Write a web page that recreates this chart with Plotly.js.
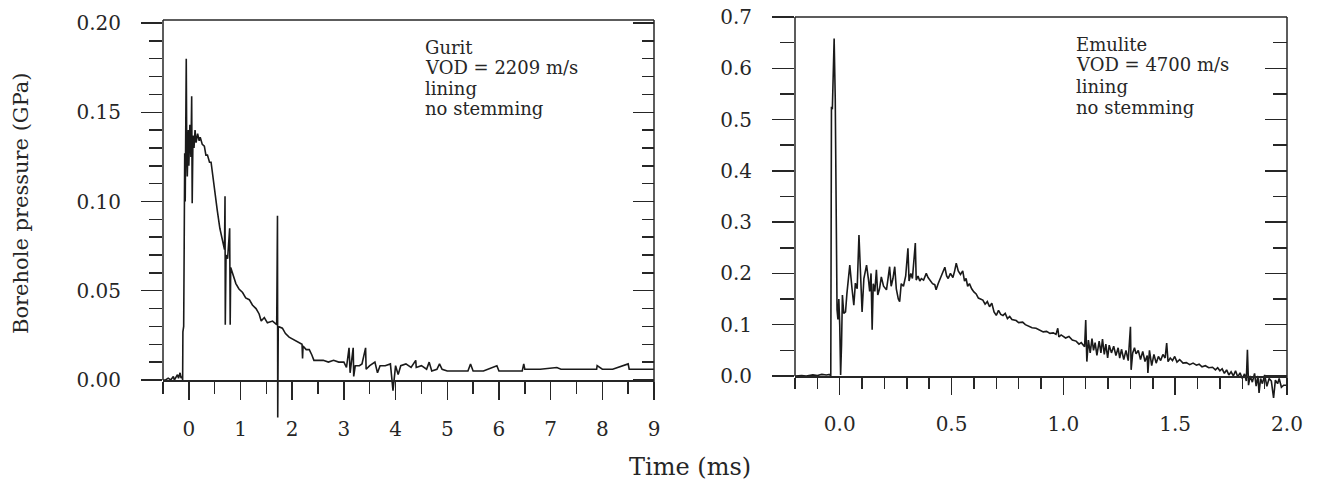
<!DOCTYPE html>
<html><head><meta charset="utf-8">
<script src="https://cdn.plot.ly/plotly-3.0.1.min.js"></script>
<style>html,body{margin:0;padding:0;background:#fff}</style>
</head><body>
<div id="chart" style="width:1320px;height:481px"></div>
<script>
// ---------- data ----------
const guritTime = [-0.50,-0.45,-0.40,-0.35,-0.30,-0.28,-0.22,-0.20,-0.17,-0.15,
 -0.13,-0.12,-0.115,-0.10,-0.09,-0.08,-0.07,-0.06,-0.05,-0.04,
 -0.03,-0.01,0.00,0.02,0.04,0.055,0.065,0.08,0.10,0.12,
 0.14,0.17,0.20,0.22,0.26,0.30,0.33,0.36,0.40,0.43,
 0.45,0.50,0.55,0.60,0.65,0.69,0.70,0.705,0.72,0.75,
 0.79,0.80,0.81,0.86,0.91,0.97,1.04,1.10,1.17,1.23,
 1.30,1.36,1.40,1.46,1.52,1.62,1.70,1.715,1.72,1.73,
 1.81,1.87,1.94,2.00,2.07,2.13,2.19,2.20,2.21,2.27,
 2.33,2.38,2.42,2.49,2.60,2.70,2.80,2.90,3.00,3.05,
 3.10,3.12,3.15,3.18,3.19,3.22,3.30,3.35,3.42,3.43,
 3.50,3.60,3.65,3.70,3.80,3.90,3.95,4.00,4.05,4.10,
 4.20,4.30,4.39,4.40,4.50,4.60,4.65,4.70,4.80,4.85,
 4.90,5.00,5.20,5.40,5.45,5.50,5.70,5.96,6.00,6.20,
 6.45,6.48,6.50,6.80,7.12,7.20,7.50,7.89,7.90,8.00,
 8.20,8.50,8.52,8.70,8.92,9.00];
const guritPressure = [0.000,0.000,0.001,0.000,0.002,0.000,0.003,0.001,0.004,0.001,
 0.002,0.000,0.027,0.030,0.075,0.127,0.100,0.140,0.180,0.128,
 0.114,0.140,0.120,0.143,0.125,0.159,0.099,0.137,0.130,0.140,
 0.133,0.138,0.134,0.136,0.132,0.131,0.126,0.126,0.122,0.122,
 0.117,0.105,0.095,0.085,0.078,0.073,0.103,0.031,0.070,0.068,
 0.085,0.031,0.063,0.058,0.054,0.051,0.049,0.046,0.045,0.042,
 0.040,0.037,0.033,0.035,0.032,0.033,0.031,0.092,-0.021,0.030,
 0.029,0.026,0.024,0.023,0.022,0.021,0.020,0.012,0.019,0.017,
 0.017,0.014,0.011,0.011,0.011,0.010,0.011,0.010,0.010,0.007,
 0.018,0.004,0.010,0.018,0.002,0.008,0.008,0.009,0.018,0.006,
 0.008,0.010,0.004,0.008,0.008,0.009,-0.006,0.008,0.003,0.008,
 0.009,0.007,0.011,0.007,0.008,0.006,0.010,0.005,0.006,0.009,
 0.006,0.005,0.005,0.005,0.009,0.005,0.005,0.008,0.005,0.005,
 0.005,0.009,0.006,0.006,0.007,0.006,0.006,0.006,0.008,0.006,
 0.006,0.009,0.006,0.006,0.006,0.006];

const emuliteTime = [-0.20,-0.17,-0.15,-0.12,-0.10,-0.08,-0.06,-0.045,-0.040,-0.037,
 -0.033,-0.025,-0.020,-0.017,-0.012,-0.008,-0.004,0.000,0.004,0.008,
 0.012,0.018,0.026,0.032,0.045,0.055,0.063,0.070,0.078,0.086,
 0.094,0.100,0.108,0.120,0.128,0.134,0.140,0.145,0.150,0.157,
 0.164,0.170,0.178,0.186,0.196,0.209,0.216,0.223,0.230,0.238,
 0.246,0.253,0.262,0.268,0.275,0.285,0.295,0.305,0.310,0.318,
 0.325,0.333,0.338,0.342,0.350,0.358,0.365,0.375,0.387,0.395,
 0.405,0.415,0.425,0.431,0.440,0.450,0.460,0.470,0.478,0.485,
 0.495,0.506,0.514,0.521,0.530,0.540,0.550,0.558,0.565,0.572,
 0.580,0.590,0.600,0.610,0.620,0.630,0.640,0.650,0.660,0.670,
 0.680,0.690,0.700,0.710,0.720,0.730,0.740,0.750,0.760,0.770,
 0.789,0.800,0.818,0.830,0.848,0.860,0.878,0.890,0.910,0.925,
 0.940,0.955,0.967,0.975,0.980,0.990,1.010,1.025,1.040,1.057,
 1.070,1.080,1.095,1.100,1.105,1.112,1.120,1.128,1.135,1.142,
 1.150,1.160,1.168,1.175,1.183,1.190,1.198,1.205,1.215,1.225,
 1.235,1.245,1.252,1.260,1.270,1.280,1.290,1.300,1.303,1.310,
 1.318,1.325,1.335,1.345,1.355,1.365,1.375,1.378,1.385,1.395,
 1.405,1.415,1.425,1.435,1.445,1.455,1.462,1.468,1.478,1.488,
 1.498,1.508,1.520,1.535,1.550,1.565,1.580,1.595,1.607,1.620,
 1.635,1.650,1.667,1.680,1.690,1.700,1.710,1.720,1.730,1.740,
 1.750,1.760,1.770,1.780,1.790,1.800,1.810,1.818,1.823,1.828,
 1.835,1.845,1.855,1.862,1.870,1.875,1.882,1.890,1.900,1.910,
 1.920,1.930,1.940,1.948,1.958,1.965,1.975,1.985,2.000];
const emulitePressure = [0.000,0.001,0.000,0.002,0.001,0.003,0.002,0.003,0.000,0.525,
 0.520,0.658,0.540,0.291,0.129,0.110,0.150,0.100,0.002,0.060,
 0.158,0.122,0.125,0.160,0.216,0.170,0.138,0.181,0.170,0.275,
 0.180,0.125,0.190,0.216,0.190,0.165,0.200,0.090,0.180,0.165,
 0.207,0.158,0.170,0.193,0.175,0.168,0.190,0.213,0.175,0.190,
 0.213,0.170,0.150,0.145,0.180,0.175,0.195,0.249,0.185,0.200,
 0.190,0.240,0.259,0.187,0.195,0.185,0.190,0.187,0.200,0.192,
 0.185,0.180,0.178,0.168,0.180,0.190,0.200,0.212,0.195,0.190,
 0.200,0.192,0.205,0.220,0.205,0.198,0.205,0.185,0.190,0.175,
 0.180,0.170,0.164,0.160,0.152,0.150,0.148,0.140,0.145,0.135,
 0.142,0.125,0.118,0.128,0.120,0.118,0.122,0.112,0.116,0.110,
 0.108,0.104,0.105,0.100,0.097,0.094,0.093,0.090,0.086,0.087,
 0.083,0.084,0.081,0.093,0.076,0.080,0.074,0.077,0.070,0.068,
 0.062,0.065,0.057,0.109,0.028,0.070,0.045,0.073,0.050,0.065,
 0.040,0.068,0.045,0.072,0.042,0.062,0.035,0.060,0.045,0.058,
 0.040,0.055,0.035,0.052,0.032,0.050,0.030,0.096,0.012,0.045,
 0.055,0.043,0.050,0.032,0.048,0.028,0.040,0.006,0.050,0.020,
 0.042,0.025,0.038,0.030,0.042,0.035,0.064,0.028,0.035,0.030,
 0.038,0.027,0.032,0.025,0.026,0.022,0.025,0.021,0.023,0.018,
 0.020,0.016,0.017,0.012,0.016,0.010,0.014,0.005,0.012,0.002,
 0.008,0.000,0.010,-0.002,0.006,-0.005,0.004,-0.010,0.051,-0.018,
 0.000,-0.012,0.005,-0.020,0.000,-0.033,-0.005,-0.015,0.002,-0.020,
 -0.005,-0.010,-0.043,-0.008,-0.015,-0.005,-0.022,-0.018,-0.018];

// tick values and labels
const guritXTicks = [0,1,2,3,4,5,6,7,8,9];
const guritXLabels = ['0','1','2','3','4','5','6','7','8','9'];
const guritXMinor = [-0.5,0.5,1.5,2.5,3.5,4.5,5.5,6.5,7.5,8.5];
const guritYTicks = [0,0.05,0.10,0.15,0.20];
const guritYLabels = ['0.00','0.05','0.10','0.15','0.20'];
const guritYMinor = [0.01,0.02,0.03,0.04,0.06,0.07,0.08,0.09,0.11,0.12,0.13,0.14,0.16,0.17,0.18,0.19];
const emuliteXTicks = [0,0.5,1.0,1.5,2.0];
const emuliteXLabels = ['0.0','0.5','1.0','1.5','2.0'];
const emuliteXMinor = [-0.2,-0.1,0.1,0.2,0.3,0.4,0.6,0.7,0.8,0.9,1.1,1.2,1.3,1.4,1.6,1.7,1.8,1.9];
const emuliteYTicks = [0,0.1,0.2,0.3,0.4,0.5,0.6,0.7];
const emuliteYLabels = ['0.0','0.1','0.2','0.3','0.4','0.5','0.6','0.7'];
const emuliteYMinor = [0.05,0.15,0.25,0.35,0.45,0.55,0.65];
const guritNotes = ['Gurit','VOD = 2209 m/s','lining','no stemming'];
const emuliteNotes = ['Emulite','VOD = 4700 m/s','lining','no stemming'];
const yTitle = 'Borehole pressure (GPa)';
const xTitle = 'Time (ms)';

// ---------- layout helpers ----------
const W = 1320, H = 481;
const fx = p => p / W;
const fy = p => 1 - p / H;
const FONT = 'DejaVu Serif, Liberation Serif, serif';
const INK = '#262626';
const tickFont = {family: FONT, size: 20, color: INK};

const gRange = [-0.025, 0.2017];
const eRange = [-0.05, 0.70];

function xAxis(dom, range, pos, tv, tt, minor, len, mlen) {
  return {domain: dom, range: range, anchor: 'free', position: pos,
    showline: true, linecolor: INK, linewidth: 1.5, zeroline: false, showgrid: false,
    ticks: 'outside', ticklen: len, tickwidth: 1.5, tickcolor: INK,
    tickmode: 'array', tickvals: tv, ticktext: tt,
    minor: {tickmode: 'array', tickvals: minor, ticks: 'outside', ticklen: mlen, tickwidth: 1.5, tickcolor: INK, showgrid: false},
    tickfont: tickFont, ticklabelstandoff: 12, automargin: false, fixedrange: true};
}
function yAxis(dom, range, anchor, tv, tt, minor, len, mlen) {
  return {domain: dom, range: range, anchor: anchor, side: 'left',
    showline: false, zeroline: false, showgrid: false,
    ticks: 'outside', ticklen: len, tickwidth: 1.5, tickcolor: INK,
    tickmode: 'array', tickvals: tv, ticktext: tt,
    minor: {tickmode: 'array', tickvals: minor, ticks: 'outside', ticklen: mlen, tickwidth: 1.5, tickcolor: INK, showgrid: false},
    tickfont: tickFont, ticklabelstandoff: 16, automargin: false, fixedrange: true};
}
function yMirror(over, anchor, range, tv, minor, len, mlen) {
  return {overlaying: over, anchor: anchor, side: 'right', range: range,
    showline: false, zeroline: false, showgrid: false, showticklabels: false,
    ticks: 'inside', ticklen: len, tickwidth: 1.5, tickcolor: INK,
    tickmode: 'array', tickvals: tv,
    minor: {tickmode: 'array', tickvals: minor, ticks: 'inside', ticklen: mlen, tickwidth: 1.5, tickcolor: INK, showgrid: false},
    automargin: false, fixedrange: true};
}

const traces = [
  {x: guritTime, y: guritPressure, xaxis: 'x', yaxis: 'y', type: 'scatter', mode: 'lines',
   line: {color: '#1a1a1a', width: 1.6}, hoverinfo: 'skip', showlegend: false},
  {x: emuliteTime, y: emulitePressure, xaxis: 'x2', yaxis: 'y3', type: 'scatter', mode: 'lines',
   line: {color: '#1a1a1a', width: 1.6}, hoverinfo: 'skip', showlegend: false},
  {x: [], y: [], xaxis: 'x', yaxis: 'y2', type: 'scatter', showlegend: false},
  {x: [], y: [], xaxis: 'x2', yaxis: 'y4', type: 'scatter', showlegend: false}
];

const frame = {type: 'line', line: {color: INK, width: 1.5}, layer: 'above'};
const shapes = [
  Object.assign({xref: 'x domain', yref: 'y', x0: 0, x1: 0, y0: 0, y1: gRange[1]}, frame),
  Object.assign({xref: 'x domain', yref: 'y domain', x0: 0, x1: 1, y0: 1, y1: 1}, frame),
  Object.assign({xref: 'x domain', yref: 'y', x0: 1, x1: 1, y0: -0.008, y1: gRange[1]}, frame),
  Object.assign({xref: 'x2 domain', yref: 'y3', x0: 0, x1: 0, y0: 0, y1: eRange[1]}, frame),
  Object.assign({xref: 'x2 domain', yref: 'y3 domain', x0: 0, x1: 1, y0: 1, y1: 1}, frame),
  Object.assign({xref: 'x2 domain', yref: 'y3', x0: 1, x1: 1, y0: -0.027, y1: eRange[1]}, frame)
];

const noteFont = {family: FONT, size: 18, color: INK};
const gNoteY = [47, 67, 88, 109];
const eNoteY = [44, 65, 86, 107];
const annotations = [];
guritNotes.forEach((t, i) => annotations.push({text: t, xref: 'paper', yref: 'paper',
  x: fx(423), y: fy(gNoteY[i]), xanchor: 'left', yanchor: 'middle', showarrow: false, font: noteFont}));
emuliteNotes.forEach((t, i) => annotations.push({text: t, xref: 'paper', yref: 'paper',
  x: fx(1074), y: fy(eNoteY[i]), xanchor: 'left', yanchor: 'middle', showarrow: false, font: noteFont}));
annotations.push({text: yTitle, xref: 'paper', yref: 'paper', x: fx(21), y: fy(203),
  xanchor: 'center', yanchor: 'middle', textangle: -90, showarrow: false,
  font: {family: FONT, size: 21, color: INK}});
annotations.push({text: xTitle, xref: 'paper', yref: 'paper', x: fx(690), y: fy(467),
  xanchor: 'center', yanchor: 'middle', showarrow: false,
  font: {family: FONT, size: 24, color: INK}});

const layout = {
  width: W, height: H, autosize: false,
  margin: {l: 0, r: 0, t: 0, b: 0, pad: 0},
  paper_bgcolor: '#fff', plot_bgcolor: 'rgba(0,0,0,0)',
  showlegend: false,
  xaxis: xAxis([fx(163), fx(654)], [-0.5, 9], fy(380), guritXTicks, guritXLabels, guritXMinor, 18, 12),
  yaxis: yAxis([fy(424.6), fy(20)], gRange, 'x', guritYTicks, guritYLabels, guritYMinor, 21, 13),
  yaxis2: yMirror('y', 'x', gRange, guritYTicks, guritYMinor, 21, 12),
  xaxis2: xAxis([fx(795), fx(1287)], [-0.2, 2.0], fy(376), emuliteXTicks, emuliteXLabels, emuliteXMinor, 17, 11),
  yaxis3: yAxis([fy(401.6), fy(17)], eRange, 'x2', emuliteYTicks, emuliteYLabels, emuliteYMinor, 22, 14),
  yaxis4: yMirror('y3', 'x2', eRange, emuliteYTicks, emuliteYMinor, 22, 14),
  shapes: shapes,
  annotations: annotations
};

Plotly.newPlot('chart', traces, layout, {staticPlot: true, displayModeBar: false});
</script>
</body></html>
